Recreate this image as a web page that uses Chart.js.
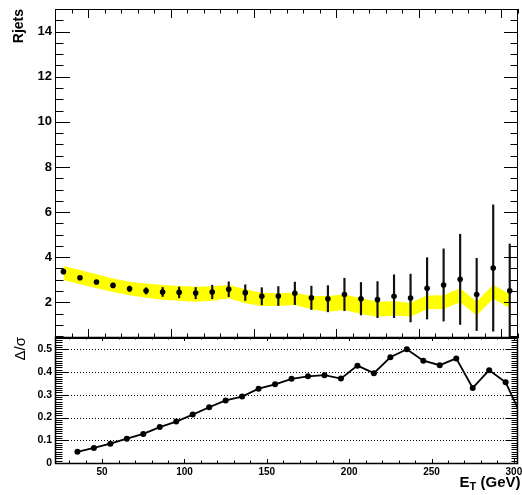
<!DOCTYPE html>
<html><head><meta charset="utf-8">
<script src="https://cdn.jsdelivr.net/npm/chart.js@4.4.0/dist/chart.umd.min.js"></script>
<style>
html,body{margin:0;padding:0;background:#fff;}
#wrap{position:relative;width:522px;height:495px;overflow:hidden;background:#fff;}
#wrap canvas{position:absolute;left:0;top:0;}
#err{position:absolute;left:60px;top:60px;color:red;font:12px sans-serif;}
</style></head><body>
<div id="wrap">
<canvas id="cTop" width="522" height="495"></canvas>
<canvas id="cBot" width="522" height="495"></canvas>
<div id="err"></div>
</div>
<script>
// ---- data ----
const etTop = [35,45,55,65,75,85,95,105,115,125,135,145,155,165,175,185,195,205,215,225,235,245,255,265,275,285,295,305];
const rjets = [3.36,3.09,2.90,2.75,2.60,2.51,2.46,2.44,2.41,2.46,2.58,2.43,2.27,2.28,2.40,2.20,2.16,2.35,2.16,2.12,2.27,2.19,2.62,2.77,3.02,2.35,3.52,2.51];
const rjetsErr = [0.05,0.06,0.08,0.10,0.12,0.14,0.20,0.24,0.25,0.30,0.33,0.35,0.38,0.42,0.50,0.52,0.58,0.72,0.72,0.80,0.95,1.06,1.36,1.60,2.00,1.60,2.80,2.08];
const bandHigh = [3.61,3.43,3.24,3.06,2.91,2.84,2.77,2.72,2.69,2.71,2.77,2.58,2.43,2.40,2.43,2.28,2.28,2.35,2.18,2.03,2.05,1.98,2.30,2.31,2.62,2.03,2.78,2.36];
const bandLow  = [2.99,2.80,2.62,2.46,2.32,2.20,2.12,2.07,2.03,2.07,2.18,1.96,1.84,1.84,1.88,1.69,1.58,1.66,1.48,1.36,1.42,1.37,1.69,1.71,2.00,1.42,2.16,1.75];
const etBottom = [35,45,55,65,75,85,95,105,115,125,135,145,155,165,175,185,195,205,215,225,235,245,255,265,275,285,295,305];
const deltaSigma = [0.049,0.066,0.085,0.107,0.128,0.158,0.182,0.213,0.245,0.275,0.292,0.327,0.346,0.370,0.381,0.386,0.371,0.428,0.395,0.465,0.500,0.450,0.430,0.460,0.330,0.408,0.355,0.200];
const yTopTicks = [2,4,6,8,10,12,14];
const yBotTicks = [0,0.1,0.2,0.3,0.4,0.5];
const yBotTickLabels = ['0','0.1','0.2','0.3','0.4','0.5'];
const xTicks = [50,100,150,200,250,300];

const FONT = 'Liberation Sans';

function tickList(start, step, majorStep, lo, hi) {
  const out = [];
  for (let k = 0; k < 2000; k++) {
    const v = start + k * step;
    if (v > hi + 1e-9) break;
    if (v < lo - 1e-9) continue;
    const r = v / majorStep;
    out.push({v: v, major: Math.abs(r - Math.round(r)) < 1e-6});
  }
  return out;
}

// ROOT-like frame with inward ticks on four sides
function framePlugin(cfg) {
  return {
    id: 'rootFrame',
    beforeDatasetsDraw(chart) {
      if (!cfg.grid) return;
      const ctx = chart.ctx, a = chart.chartArea, ys = chart.scales.y;
      ctx.save();
      ctx.strokeStyle = '#000'; ctx.lineWidth = 1; ctx.setLineDash([1, 2]);
      cfg.grid.forEach(v => {
        const y = Math.round(ys.getPixelForValue(v)) + 0.5;
        ctx.beginPath(); ctx.moveTo(a.left, y); ctx.lineTo(a.right, y); ctx.stroke();
      });
      ctx.restore();
    },
    afterDatasetsDraw(chart) {
      const ctx = chart.ctx, a = chart.chartArea, xs = chart.scales.x, ys = chart.scales.y;
      try {
        ctx.save();
        ctx.fillStyle = '#000';
        const yt = tickList(cfg.yMinorStart, cfg.yMinorStep, cfg.yMajorStep, ys.min, ys.max);
        yt.forEach(t => {
          const len = t.major ? cfg.yMajorLen : cfg.yMinorLen;
          const y = Math.round(ys.getPixelForValue(t.v));
          ctx.fillRect(a.left, y, len, 1);
          ctx.fillRect(a.right - len, y, len, 1);
        });
        const xt = tickList(cfg.xMinorStart, cfg.xMinorStep, cfg.xMajorStep, xs.min, xs.max);
        xt.forEach(t => {
          const len = t.major ? cfg.xMajorLen : cfg.xMinorLen;
          const x = Math.round(xs.getPixelForValue(t.v));
          ctx.fillRect(x, a.bottom - len, 1, len);
          ctx.fillRect(x, a.top, 1, len);
        });
        ctx.strokeStyle = '#000';
        ctx.lineWidth = cfg.frameWidth;
        ctx.setLineDash([]);
        ctx.strokeRect(a.left - 0.5, a.top + 0.5, a.right - a.left, a.bottom - a.top);
        ctx.restore();
      } catch (e) {
        document.getElementById('err').textContent += ' ' + e.message;
      }
    },
    afterDraw(chart) {
      if (!cfg.xTitle) return;
      const ctx = chart.ctx;
      ctx.save();
      ctx.fillStyle = '#000';
      ctx.textBaseline = 'alphabetic'; ctx.textAlign = 'left';
      const big = 'bold 15px "' + FONT + '"', small = 'bold 11px "' + FONT + '"';
      ctx.font = big; const wE = ctx.measureText('E').width, wR = ctx.measureText(' (GeV)').width;
      ctx.font = small; const wT = ctx.measureText('T').width;
      let x = 520.5 - (wE + wT + wR);
      ctx.font = big; ctx.fillText('E', x, 486.5); x += wE;
      ctx.font = small; ctx.fillText('T', x, 490); x += wT;
      ctx.font = big; ctx.fillText(' (GeV)', x, 486.5);
      ctx.restore();
    }
  };
}

// ---- top panel ----
new Chart(document.getElementById('cTop'), {
  type: 'scatter',
  data: { datasets: [
    { type: 'scatter', data: etTop.map((x, i) => ({x, y: rjets[i]})),
      pointRadius: 2.8, pointBackgroundColor: '#000', pointBorderWidth: 0, order: 0 },
    { type: 'bar', data: etTop.map((x, i) => ({x, y: [rjets[i] - rjetsErr[i], rjets[i] + rjetsErr[i]]})),
      backgroundColor: '#111', borderWidth: 0, barThickness: 1.5, grouped: false, order: 1 },
    { type: 'line', data: etTop.map((x, i) => ({x, y: bandLow[i]})),
      borderColor: 'rgba(0,0,0,0)', borderWidth: 1, pointRadius: 0, fill: false, tension: 0, order: 3 },
    { type: 'line', data: etTop.map((x, i) => ({x, y: bandHigh[i]})),
      borderColor: 'rgba(0,0,0,0)', borderWidth: 1, pointRadius: 0, fill: 2, backgroundColor: '#ffff00', tension: 0, order: 2 }
  ]},
  options: {
    responsive: false, animation: false,
    layout: { padding: { left: 0, right: 4, top: 9, bottom: 157 } },
    plugins: { legend: { display: false }, tooltip: { enabled: false } },
    scales: {
      x: { type: 'linear', min: 30.5, max: 310, display: false, offset: false },
      y: { type: 'linear', min: 0.42, max: 15,
        afterBuildTicks: s => { s.ticks = yTopTicks.map(v => ({value: v})); },
        afterFit: s => { s.width = 56; s.paddingTop = 0; s.paddingBottom = 0; },
        grid: { display: false, drawTicks: false }, border: { display: false },
        ticks: { color: '#000', padding: 4, font: { family: FONT, weight: 'bold', size: 13 } },
        title: { display: true, text: 'Rjets', align: 'end', color: '#000',
          padding: { top: 10.6, bottom: 0 }, font: { family: FONT, weight: 'bold', size: 14 } } }
    }
  },
  plugins: [framePlugin({ frameWidth: 1,
    yMinorStart: 0.5, yMinorStep: 0.5, yMajorStep: 2, yMajorLen: 14, yMinorLen: 7.5,
    xMinorStart: 40, xMinorStep: 10, xMajorStep: 50, xMajorLen: 9, xMinorLen: 4.5 })]
});

// ---- bottom panel ----
new Chart(document.getElementById('cBot'), {
  type: 'line',
  data: { datasets: [
    { data: etBottom.map((x, i) => ({x, y: deltaSigma[i]})), borderColor: '#000', borderWidth: 1.8,
      pointRadius: 3, pointBackgroundColor: '#000', pointBorderWidth: 0, tension: 0, fill: false }
  ]},
  options: {
    responsive: false, animation: false,
    layout: { padding: { left: 0, right: 4, top: 337, bottom: 12 } },
    plugins: { legend: { display: false }, tooltip: { enabled: false } },
    scales: {
      x: { type: 'linear', min: 22, max: 302.5, position: 'bottom', offset: false,
        afterBuildTicks: s => { s.ticks = xTicks.map(v => ({value: v})); },
        afterFit: s => { s.height = 20; s.paddingLeft = 0; s.paddingRight = 0; },
        grid: { display: false, drawTicks: false }, border: { display: false },
        ticks: { color: '#000', padding: 3, autoSkip: false, maxRotation: 0,
          font: { family: FONT, weight: 'bold', size: 10 } } },
      y: { type: 'linear', min: 0, max: 0.554,
        afterBuildTicks: s => { s.ticks = yBotTicks.map(v => ({value: v})); },
        afterFit: s => { s.width = 56; s.paddingTop = 0; s.paddingBottom = 0; },
        grid: { display: false, drawTicks: false }, border: { display: false },
        ticks: { color: '#000', padding: 4, callback: (v, i) => yBotTickLabels[i],
          font: { family: FONT, weight: 'bold', size: 10.5 } },
        title: { display: true, text: 'Δ/σ', align: 'end', color: '#000',
          padding: { top: 12, bottom: 0 }, font: { family: FONT, size: 15 } } }
    }
  },
  plugins: [framePlugin({ frameWidth: 1.5, grid: [0.1, 0.2, 0.3, 0.4, 0.5], xTitle: true,
    yMinorStart: 0, yMinorStep: 0.01, yMajorStep: 0.1, yMajorLen: 12.5, yMinorLen: 6.5,
    xMinorStart: 30, xMinorStep: 10, xMajorStep: 50, xMajorLen: 4, xMinorLen: 2.5 })]
});
</script>
</body></html>
